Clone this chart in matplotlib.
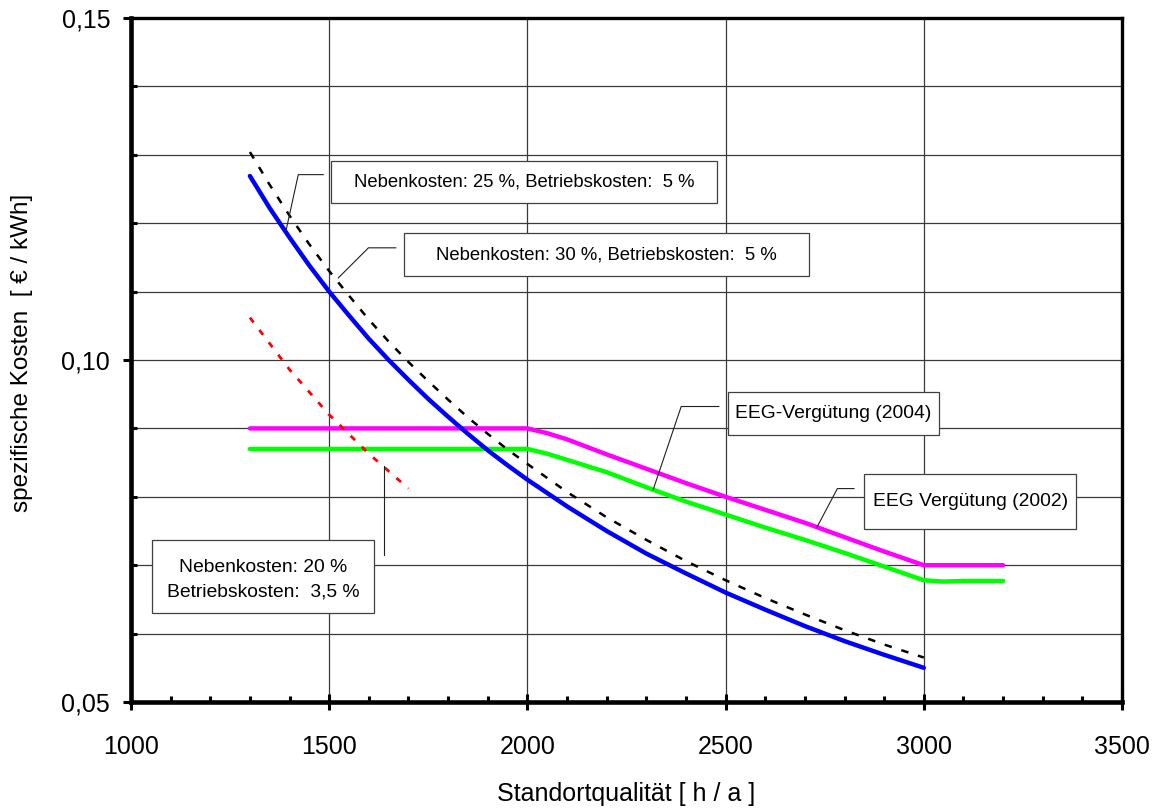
import matplotlib
matplotlib.use("Agg")
import matplotlib.pyplot as plt
from matplotlib.ticker import MultipleLocator, FuncFormatter
from matplotlib.patches import Rectangle

plt.rcParams['font.family'] = ['Liberation Sans', 'DejaVu Sans']

# ---------------- data ----------------
hours = [1300, 1350, 1400, 1450, 1500, 1550, 1600, 1650, 1700, 1750, 1800,
         1850, 1900, 1950, 2000, 2100, 2200, 2300, 2400, 2500, 2600, 2700,
         2800, 2900, 3000]
cost_nk25 = [0.1269, 0.1222, 0.1179, 0.1138, 0.1100, 0.1065, 0.1031, 0.1000,
             0.0971, 0.0943, 0.0917, 0.0892, 0.0868, 0.0846, 0.0825, 0.0786,
             0.0750, 0.0717, 0.0688, 0.0660, 0.0635, 0.0611, 0.0589, 0.0569,
             0.0550]
cost_nk30 = [0.1304, 0.1256, 0.1211, 0.1169, 0.1130, 0.1094, 0.1059, 0.1027,
             0.0997, 0.0969, 0.0942, 0.0916, 0.0892, 0.0869, 0.0848, 0.0807,
             0.0770, 0.0737, 0.0706, 0.0678, 0.0652, 0.0628, 0.0605, 0.0584,
             0.0565]

hours_nk20 = [1300, 1400, 1500, 1600, 1700]
cost_nk20 = [0.1062, 0.0986, 0.0920, 0.0863, 0.0812]

hours_eeg = [1300, 2000, 2050, 2100, 2200, 2300, 2400, 2500, 2600, 2700, 2800,
             2900, 3000, 3050, 3100, 3200]
eeg_upper = [0.0900, 0.0900, 0.0893, 0.0884, 0.0862, 0.0841, 0.0820, 0.0800,
             0.0781, 0.0762, 0.0741, 0.0720, 0.0700, 0.0700, 0.0700, 0.0700]
eeg_lower = [0.0870, 0.0870, 0.0863, 0.0854, 0.0836, 0.0814, 0.0793, 0.0774,
             0.0755, 0.0737, 0.0718, 0.0698, 0.0678, 0.0676, 0.0677, 0.0677]

x_ticks = [1000, 1500, 2000, 2500, 3000, 3500]
y_ticks = [0.05, 0.10, 0.15]

label_nk25 = "Nebenkosten: 25 %, Betriebskosten:  5 %"
label_nk30 = "Nebenkosten: 30 %, Betriebskosten:  5 %"
label_nk20 = "Nebenkosten: 20 %\nBetriebskosten:  3,5 %"
label_eeg04 = "EEG-Vergütung (2004)"
label_eeg02 = "EEG Vergütung (2002)"

# ---------------- figure ----------------
W, H = 1157, 809
fig = plt.figure(figsize=(W / 100, H / 100), dpi=100)
ax = fig.add_axes([131 / W, 1 - 702 / H, 991 / W, 684 / H])

ax.set_xlim(1000, 3500)
ax.set_ylim(0.05, 0.15)

ax.set_xticks(x_ticks)
ax.xaxis.set_minor_locator(MultipleLocator(100))
ax.set_yticks(y_ticks)
ax.yaxis.set_minor_locator(MultipleLocator(0.01))
ax.yaxis.set_major_formatter(FuncFormatter(lambda v, p: f"{v:.2f}".replace('.', ',')))
ax.xaxis.set_major_formatter(FuncFormatter(lambda v, p: f"{int(round(v))}"))

gcol = '#3a3a3a'
ax.grid(True, which='major', axis='x', color=gcol, lw=0.9, zorder=0)
ax.grid(True, which='both', axis='y', color=gcol, lw=0.9, zorder=0)
ax.set_axisbelow(True)

ax.tick_params(axis='x', which='major', direction='inout', length=11.5, width=2.2,
               labelsize=18, pad=18)
ax.tick_params(axis='x', which='minor', direction='in', length=4.3, width=2.2)
ax.tick_params(axis='y', which='major', direction='out', length=6, width=2.2,
               labelsize=18, pad=9)
ax.tick_params(axis='y', which='minor', direction='in', length=4.3, width=2.2)

for side in ['left', 'bottom']:
    ax.spines[side].set_linewidth(3.3)
for side in ['top', 'right']:
    ax.spines[side].set_linewidth(2.4)

# data lines
ax.plot(hours_eeg, eeg_lower, color='#00FF00', lw=3.2, solid_capstyle='round',
        solid_joinstyle='round', zorder=3)
ax.plot(hours_eeg, eeg_upper, color='#FF00FF', lw=3.2, solid_capstyle='round',
        solid_joinstyle='round', zorder=3)
ax.plot(hours, cost_nk30, color='black', lw=1.8, dashes=(3.0, 4.0), zorder=3)
ax.plot(hours, cost_nk25, color='#0000FF', lw=3.2, solid_capstyle='round',
        solid_joinstyle='round', zorder=4)
ax.plot(hours_nk20, cost_nk20, color='#FF0000', lw=2.0, dashes=(2.2, 3.4), zorder=3)

# leader lines
lcol = '#202020'
ax.plot([1485, 1422, 1391], [0.1271, 0.1271, 0.1189], color=lcol, lw=0.8, zorder=5)
ax.plot([1668, 1599, 1523], [0.1164, 0.1164, 0.1120], color=lcol, lw=0.8, zorder=5)
ax.plot([2483, 2388, 2317], [0.0932, 0.0932, 0.0810], color=lcol, lw=0.8, zorder=5)
ax.plot([2824, 2782, 2730], [0.0812, 0.0812, 0.0755], color=lcol, lw=0.8, zorder=5)
ax.plot([1639, 1639], [0.0715, 0.0845], color=lcol, lw=0.8, zorder=5)

def box(x0, x1, y0, y1, text, size=13.5, ls=1.2, dy=0.0):
    ax.add_patch(Rectangle((x0, y0), x1 - x0, y1 - y0, facecolor='white',
                           edgecolor='#404040', lw=0.9, zorder=6))
    ax.text((x0 + x1) / 2, (y0 + y1) / 2 + dy, text, ha='center', va='center',
            fontsize=size, color='black', zorder=7, linespacing=ls)

box(1504, 2479, 0.1230, 0.1291, label_nk25, size=13.3)
box(1689, 2710, 0.1123, 0.1185, label_nk30, size=13.3)
box(2506, 3039, 0.0890, 0.0953, label_eeg04, size=13.9)
box(2849, 3385, 0.0753, 0.0833, label_eeg02, size=13.9)
box(1054, 1614, 0.0630, 0.0737, label_nk20, size=13.9, ls=1.6, dy=-0.0005)

fig.text(626 / W, 1 - 794 / H, "Standortqualität [ h / a ]", ha='center', va='center',
         fontsize=18)
fig.text(22 / W, 1 - 353 / H, "spezifische Kosten  [ € / kWh]", ha='center', va='center',
         rotation=90, fontsize=17.5)

fig.savefig("out.png", dpi=100)
